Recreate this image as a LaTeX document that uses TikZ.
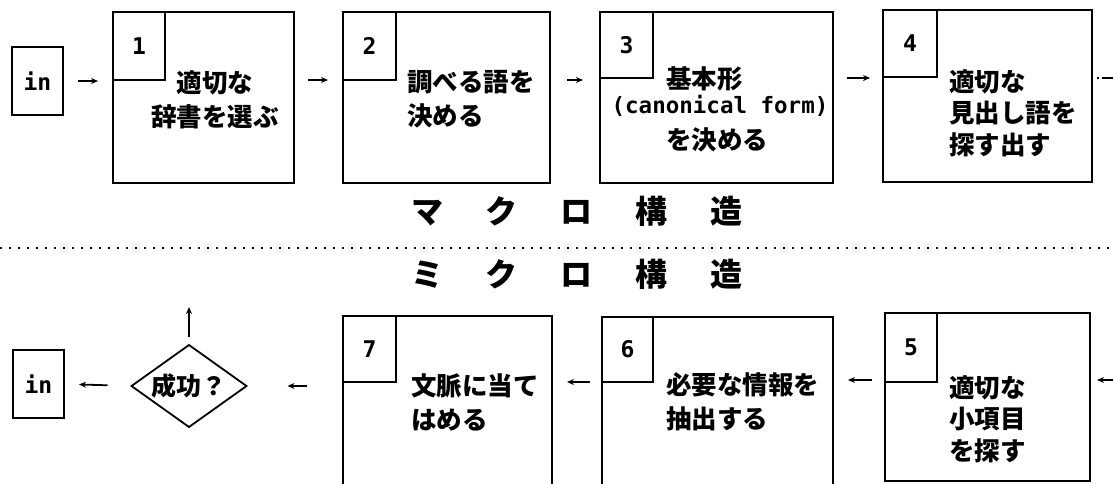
\documentclass[tikz,border=0pt]{standalone}
\usepackage{fontspec}
\setmonofont{DejaVu Sans Mono}
\newfontfamily\jp{Noto Sans CJK JP}
\usetikzlibrary{arrows.meta,shapes.geometric}
\begin{document}
\begin{tikzpicture}[x=1pt,y=-1pt,
  box/.style={draw, line width=2.6pt, inner sep=0pt, outer sep=0pt, anchor=north west},
  numbox/.style={draw, line width=1.8pt, inner sep=0pt, outer sep=0pt, anchor=north west, font=\ttfamily\bfseries\fontsize{23}{23}\selectfont},
  inbox/.style={draw, line width=2pt, minimum width=51pt, minimum height=68pt, inner sep=0pt, outer sep=0pt, font=\ttfamily\bfseries\fontsize{23}{23}\selectfont},
  jtext/.style={font=\jp\bfseries\fontsize{25.5}{34}\selectfont, align=left, inner sep=0pt},
  jtextb/.style={font=\jp\bfseries\fontsize{25.5}{31.5}\selectfont, align=left, inner sep=0pt},
  mtext/.style={font=\ttfamily\bfseries\fontsize{22.5}{22.5}\selectfont, inner sep=0pt},
  arr/.style={line width=1.8pt, -{Stealth[length=7pt,width=6pt]}},
  title/.style={font=\jp\bfseries\fontsize{32}{32}\selectfont, inner sep=0pt},
  dotline/.style={line width=1.5pt, dash pattern=on 1.5pt off 7.5pt}
]
\useasboundingbox (0,0) rectangle (1113,483);
\fill[white] (0,0) rectangle (1113,483);

% ---------- top row (macro structure)
\node[inbox] (in1) at (37.5,81) {in};
\node[box, minimum width=181pt, minimum height=171pt] (b1) at (113,12) {};
\node[numbox, minimum width=52pt, minimum height=68pt] (n1) at (b1.north west) {1};
\node[jtext, align=center] (t1) at (215,100) {適切な\\辞書を選ぶ};

\node[box, minimum width=207pt, minimum height=171pt] (b2) at (343,12) {};
\node[numbox, minimum width=53pt, minimum height=68pt] (n2) at (b2.north west) {2};
\node[jtext, anchor=west] (t2) at (407,99) {調べる語を\\決める};

\node[box, minimum width=233pt, minimum height=171pt] (b3) at (600,12) {};
\node[numbox, minimum width=53pt, minimum height=66pt] (n3) at (b3.north west) {3};
\node[jtext, anchor=west] (t3a) at (666,79) {基本形};
\node[mtext] (t3b) at (720,106) {(canonical form)};
\node[jtext, anchor=west] (t3c) at (666,140) {を決める};

\node[box, minimum width=209pt, minimum height=172pt] (b4) at (883,10) {};
\node[numbox, minimum width=54pt, minimum height=67pt] (n4) at (b4.north west) {4};
\node[jtextb, anchor=west] (t4) at (949,113) {適切な\\見出し語を\\探す出す};

\coordinate (ya) at (0,80);
\coordinate (out1) at (1113,78);
\draw[arr, shorten <=15pt, shorten >=15pt] (in1.east) -- (b1.west |- in1.east);
\draw[arr, shorten <=14pt, shorten >=15pt] (b1.east |- ya) -- (b2.west |- ya);
\draw[arr, shorten <=17pt, shorten >=17pt] (b2.east |- ya) -- (b3.west |- ya);
\draw[arr, shorten <=14pt, shorten >=13pt] (b3.east |- out1) -- (b4.west |- out1);
\draw[line width=1.8pt, dash pattern=on 1.8pt off 3pt on 20pt, shorten <=5pt] (b4.east |- out1) -- (out1);

% ---------- titles and separator
\node[title] (macro) at (577,211) {\makebox[75pt]{マ}\makebox[75pt]{ク}\makebox[75pt]{ロ}\makebox[75pt]{構}\makebox[75pt]{造}};
\coordinate (sepL) at (0,248);
\coordinate (sepR) at (1113,248);
\draw[dotline] (sepL) -- (sepR);
\node[title] (micro) at (577,274) {\makebox[75pt]{ミ}\makebox[75pt]{ク}\makebox[75pt]{ロ}\makebox[75pt]{構}\makebox[75pt]{造}};

% ---------- bottom row (micro structure)
\node[inbox] (in2) at (38.5,384) {in};
\node[diamond, draw, line width=1.8pt, aspect=1.4, minimum width=115pt, minimum height=82pt, inner sep=0pt, outer sep=0pt, font=\jp\bfseries\fontsize{25}{25}\selectfont] (d) at (189,386) {成功？};
\coordinate (up) at (189,307);
\draw[arr, shorten <=8pt] (d.north) -- (up);

\node[box, minimum width=209pt, minimum height=200pt] (b7) at (343,316) {};
\node[numbox, minimum width=53pt, minimum height=66pt] (n7) at (b7.north west) {7};
\node[jtext, anchor=west] (t7) at (411,402) {文脈に当て\\はめる};

\node[box, minimum width=231pt, minimum height=200pt] (b6) at (602,317) {};
\node[numbox, minimum width=51pt, minimum height=65pt] (n6) at (b6.north west) {6};
\node[jtext, anchor=west] (t6) at (666,402) {必要な情報を\\抽出する};

\node[box, minimum width=205pt, minimum height=168pt] (b5) at (885,313) {};
\node[numbox, minimum width=52pt, minimum height=69pt] (n5) at (b5.north west) {5};
\node[jtextb, anchor=west] (t5) at (949,419) {適切な\\小項目\\を探す};

\coordinate (yb) at (0,382);
\coordinate (in5) at (1113,380);
\draw[arr, shorten <=24pt, shorten >=15pt] (d.west) -- (in2.east);
\draw[arr, shorten <=36pt, shorten >=41pt] (b7.west |- d.west) -- (d.east);
\draw[arr, shorten <=12pt, shorten >=15pt] (b6.west |- yb) -- (b7.east |- yb);
\draw[arr, shorten <=13pt, shorten >=15pt] (b5.west |- in5) -- (b6.east |- in5);
\draw[arr, shorten >=7pt] (in5) -- (b5.east |- in5);
\end{tikzpicture}
\end{document}
